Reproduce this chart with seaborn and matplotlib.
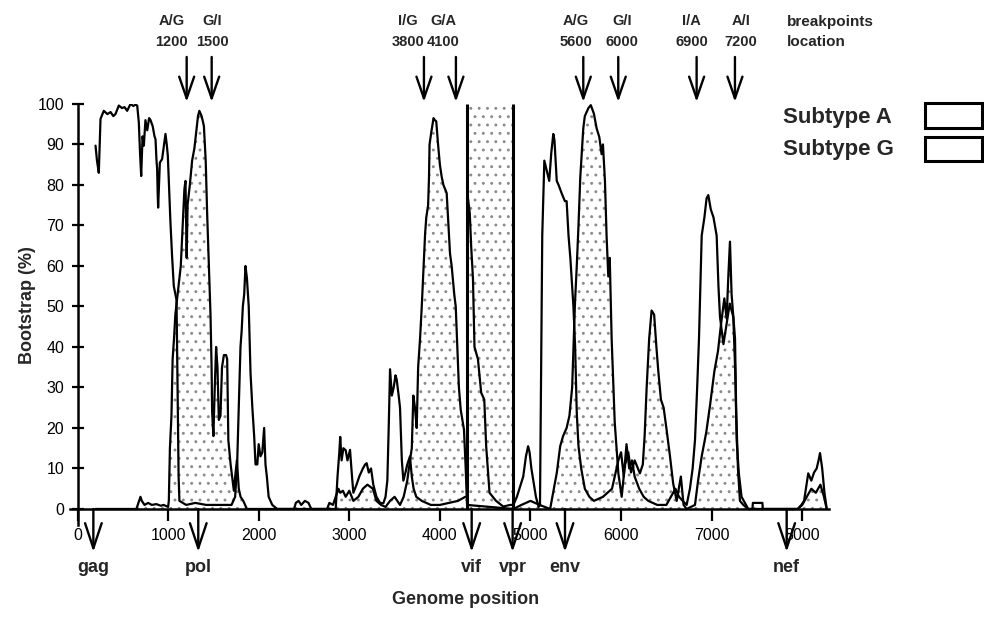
import numpy as np
import pandas as pd
import seaborn as sns
import matplotlib.pyplot as plt
from matplotlib.patches import Rectangle

# bootscan values (genome position, bootstrap %)
a_pos = [199, 215, 235, 254, 290, 330, 365, 395, 419, 456, 490, 520, 548, 585, 615, 640, 659, 677, 690, 703,
         718, 732, 750, 770, 790, 806, 830, 850, 861, 872, 879, 885, 890, 900, 909, 934, 950, 971, 985, 997,
         1010, 1026, 1045, 1063, 1080, 1093, 1100, 1108, 1116, 1125, 1200, 1300, 1420, 1550, 1700, 1740, 1762,
         1780, 1799, 1812, 1825, 1840, 1854, 1870, 1890, 1910, 1930, 1950, 1965, 1985, 2000, 2020, 2040, 2060,
         2075, 2090, 2110, 2150, 2204, 2850, 2870, 2890, 2900, 2915, 2935, 2960, 2980, 3008, 3030, 3045, 3080,
         3110, 3150, 3175, 3192, 3215, 3240, 3265, 3300, 3340, 3376, 3400, 3420, 3435, 3450, 3470, 3490, 3510,
         3523, 3545, 3560, 3580, 3597, 3620, 3640, 3670, 3690, 3710, 3740, 3800, 3900, 4000, 4100, 4200, 4280,
         4300, 4306, 4330, 4345, 4365, 4382, 4420, 4456, 4490, 4511, 4548, 4620, 4700, 4775, 4811, 4850, 4884,
         4920, 4950, 4974, 4990, 5010, 5031, 5060, 5090, 5105, 5120, 5130, 5153, 5175, 5207, 5230, 5252, 5265,
         5290, 5310, 5350, 5380, 5399, 5420, 5440, 5474, 5493, 5511, 5530, 5560, 5600, 5650, 5700, 5800, 5900,
         5950, 5970, 6000, 6030, 6060, 6090, 6120, 6150, 6200, 6250, 6300, 6400, 6500, 6550, 6600, 6640, 6680,
         6724, 6760, 6790, 6816, 6840, 6860, 6890, 6920, 6944, 6963, 6990, 7020, 7055, 7075, 7092, 7130, 7165,
         7200, 7239, 7260, 7276, 7300, 7330, 7404, 7950, 7990, 8020, 8040, 8066, 8100, 8130, 8159, 8180, 8196,
         8220, 8245, 8270]
a_val = [89.7, 86, 83, 96.3, 98.3, 97.5, 98, 97, 97.5, 99.6, 99, 99.2, 98.3, 100, 99.5, 99.8, 99.6, 95.4, 88, 82.2,
         92, 89.7, 96, 93.5, 96.5, 96, 94.5, 92, 91.3, 86, 84, 78, 74.4, 80, 85.5, 86.4, 89, 92.6, 90, 87.2,
         80, 70.7, 62, 55, 53, 51.6, 38, 22, 8, 2, 1, 1.5, 1, 1, 1, 3, 11,
         25, 40, 44, 50, 53, 60, 57, 50, 33.5, 25, 18, 11, 11, 16, 13, 14, 20,
         11, 8, 3, 1, 0, 0, 8, 14, 17.8, 12, 15, 14.5, 12, 14.6, 8, 4, 6,
         8, 10, 11, 11.3, 9, 10, 6, 3, 1.5, 1.4, 3, 7, 20, 34.5, 28, 30, 33,
         32, 28, 25, 12, 7, 9, 11, 13, 8, 5, 3, 2, 1, 1, 1.5, 2, 3,
         3, 77.5, 73, 65, 57, 40, 37, 28.7, 27, 15.5, 4, 2, 0.6, 1, 1, 3, 5.4,
         8, 13, 15.5, 14, 10, 7, 3, 0.5, 1, 40, 67.5, 86, 84, 81, 88, 92.6, 91,
         81, 80, 77.6, 76, 76, 67.5, 62, 50, 40, 23.7, 15.5, 10, 5, 3, 2, 3, 5,
         10, 12, 14, 8, 16, 10, 12, 8, 5, 3, 2, 1, 1, 3, 5, 3, 2,
         1, 5, 10, 17, 30, 42, 67.5, 72, 76.7, 77.5, 74, 72, 67.5, 55, 47.4, 40.7, 45.7,
         50.7, 47.4, 34, 17, 8.8, 3, 0, 0, 1, 2, 5, 8.8, 7, 9, 10, 12, 13.8,
         10, 4, 0]

g_pos = [199, 650, 695, 710, 740, 780, 820, 870, 920, 950, 1000, 1008, 1020, 1037, 1050, 1065, 1080, 1100, 1120,
         1140, 1165, 1180, 1192, 1205, 1215, 1240, 1265, 1290, 1310, 1330, 1345, 1370, 1395, 1415, 1431, 1450,
         1468, 1480, 1486, 1500, 1515, 1530, 1545, 1560, 1578, 1595, 1616, 1640, 1652, 1665, 1690, 1707, 1726,
         1745, 1760, 1780, 1800, 1830, 1870, 2390, 2410, 2440, 2470, 2510, 2550, 2580, 2755, 2780, 2820, 2850,
         2880, 2900, 2930, 2960, 3000, 3045, 3100, 3150, 3200, 3260, 3300, 3350, 3400, 3450, 3500, 3560, 3600,
         3640, 3670, 3690, 3707, 3725, 3744, 3760, 3781, 3800, 3818, 3837, 3850, 3870, 3880, 3886, 3905, 3930,
         3945, 3960, 3980, 4000, 4020, 4039, 4075, 4095, 4112, 4130, 4160, 4175, 4193, 4210, 4230, 4266, 4285,
         4300, 4811, 4900, 5000, 5100, 5217, 5250, 5291, 5328, 5360, 5399, 5430, 5460, 5491, 5511, 5530, 5550,
         5583, 5600, 5640, 5666, 5700, 5730, 5760, 5785, 5800, 5822, 5840, 5859, 5875, 5896, 5930, 5970, 6007,
         6040, 6080, 6110, 6150, 6208, 6240, 6260, 6282, 6310, 6337, 6365, 6390, 6411, 6440, 6470, 6500, 6540,
         6575, 6614, 6660, 6690, 6724, 6816, 6850, 6890, 6940, 6982, 7030, 7070, 7100, 7140, 7165, 7185, 7202,
         7220, 7258, 7270, 7290, 7312, 7350, 7404, 7450, 7455, 7560, 7565, 7950, 8000, 8050, 8100, 8150, 8200,
         8240, 8270]
g_val = [0, 0, 3, 2, 1, 1.5, 1, 1.2, 0.8, 1, 0.5, 2, 15, 23, 37, 42, 48, 52, 56,
         60, 72, 79, 81, 62, 75, 80, 86, 89, 93, 97, 98.3, 97, 94.6, 86, 73, 60,
         48, 35, 24, 18, 30, 40, 35, 22, 23, 35, 38, 38, 37, 17, 11, 8, 4.5,
         9, 12, 5, 3, 2, 0, 0, 1.5, 2, 1, 2, 1.5, 0, 0, 1.5, 1, 3,
         5, 4, 4.5, 3, 4.5, 2, 3, 5, 6, 5, 2, 1, 0.5, 2, 3, 1, 3,
         7, 12, 15, 28, 25, 20, 35, 42, 50, 58.5, 68, 72, 75, 82, 90, 93, 96.5,
         96, 95.7, 90, 85, 82, 80, 78, 70, 63, 60, 52.7, 50, 40, 30, 24.5, 19.6, 10,
         1, 0, 1, 2, 1, 0, 4, 9, 15.5, 18, 20, 23, 30, 50.7, 60, 70, 82,
         94, 97, 99, 99.7, 97.6, 94, 91.8, 87.6, 90, 81, 67.5, 57.4, 62, 42, 21.4, 8.8, 3,
         10.5, 14, 9, 12, 8.8, 11, 18, 29.8, 42, 49, 48, 40, 34, 27, 25, 20, 13,
         6.3, 2, 8, 1, 0, 1, 7, 13, 18.9, 25.6, 34, 39, 45, 52, 47, 58, 66,
         53, 42, 25, 10, 2, 1, 0, 0, 1.5, 1.5, 0, 0, 1, 3, 5, 4, 6,
         3, 0]

gap_edges = [4303, 4811]

# breakpoints: quoted location, and where the arrow sits on the drawing
bp_loc = [1200, 1500, 3800, 4100, 5600, 6000, 6900, 7200]
bp_arrow = [1205, 1481, 3824, 4177, 5583, 5969, 6834, 7257]
bp_names = ["A/G", "G/I", "I/G", "G/A", "A/G", "G/I", "I/A", "A/I"]

gene_pos = [175, 1333, 4351, 4803, 5381, 7828]
gene_names = ["gag", "pol", "vif", "vpr", "env", "nef"]

# label centres are pushed apart so the pairs don't collide
label_x = [1040, 1490, 3650, 4034, 5500, 6007, 6779, 7321]

sns.set_theme(style="ticks")
plt.rcParams['font.family'] = ['Liberation Sans', 'DejaVu Sans']
plt.rcParams['hatch.linewidth'] = 0.9

df_a = pd.DataFrame({"pos": a_pos, "boot": a_val})
df_g = pd.DataFrame({"pos": g_pos, "boot": g_val})

fig = plt.figure(figsize=(9.84, 6.18), dpi=100)
ax = fig.add_axes([0.0714, 0.1502, 0.7706, 0.6816])

# stippled areas (subtype G and the excluded vif/vpr stretch)
ax.fill_between(df_g["pos"], 0, df_g["boot"], facecolor="white", edgecolor="#8a8a8a",
                hatch="..", lw=0, zorder=1)
ax.fill_between(gap_edges, 0, 100, facecolor="white", edgecolor="#8a8a8a", hatch="..", lw=0, zorder=1)
ax.vlines(gap_edges, 0, 100, color="black", lw=2.2, zorder=3)

sns.lineplot(data=df_a, x="pos", y="boot", color="black", lw=1.6, errorbar=None, ax=ax, zorder=3)
sns.lineplot(data=df_g, x="pos", y="boot", color="black", lw=1.6, errorbar=None, ax=ax, zorder=3)

ax.set_xlim(-80, 8290)
ax.set_ylim(-4, 100)
ax.spines["left"].set_position(("data", 0))
ax.spines["bottom"].set_position(("data", 0))
ax.spines["top"].set_visible(False)
ax.spines["right"].set_visible(False)
for s in ["left", "bottom"]:
    ax.spines[s].set_linewidth(1.8)
    ax.spines[s].set_color("black")

ax.set_xticks(range(0, 8001, 1000))
ax.set_yticks(range(0, 101, 10))
ax.tick_params(axis="x", direction="out", length=8.5, width=1.6, pad=5, labelsize=11.5, colors="black")
ax.tick_params(axis="y", direction="inout", length=9, width=1.6, pad=5, labelsize=11.5, colors="black")
ax.set_xlabel("")
ax.set_ylabel("")

# breakpoint arrows and labels above the plot
for x, lx, loc, name in zip(bp_arrow, label_x, bp_loc, bp_names):
    ax.annotate("", xy=(x, 100.5), xytext=(x, 111.6), annotation_clip=False,
                arrowprops=dict(arrowstyle="->,head_length=1.3,head_width=0.45", lw=1.7,
                                color="black", shrinkA=0, shrinkB=0))
    ax.text(lx, 120.6, name, ha="center", va="center", fontsize=10.5, fontweight="bold", clip_on=False)
    ax.text(lx, 115.3, str(loc), ha="center", va="center", fontsize=10.5, fontweight="bold", clip_on=False)

# gene arrows below the axis
for x, name in zip(gene_pos, gene_names):
    ax.annotate("", xy=(x, -10.6), xytext=(x, 0), annotation_clip=False,
                arrowprops=dict(arrowstyle="->,head_length=1.5,head_width=0.5", lw=1.7,
                                color="black", shrinkA=0, shrinkB=0))
    ax.text(x, -14.5, name, ha="center", va="center", fontsize=13, fontweight="bold", clip_on=False)

fig.text(787 / 984, 1 - 22 / 618, "breakpoints", fontsize=11, fontweight="bold", va="center")
fig.text(787 / 984, 1 - 42.5 / 618, "location", fontsize=11, fontweight="bold", va="center")

fig.text(783 / 984, 1 - 117 / 618, "Subtype A", fontsize=16, fontweight="bold", va="center")
fig.text(783 / 984, 1 - 150 / 618, "Subtype G", fontsize=16, fontweight="bold", va="center")
fig.patches.append(Rectangle((925 / 984, 1 - 128 / 618), 57 / 984, 25 / 618, transform=fig.transFigure,
                             fill=False, lw=2.2, edgecolor="black"))
fig.patches.append(Rectangle((925 / 984, 1 - 161 / 618), 57 / 984, 24 / 618, transform=fig.transFigure,
                             fill=False, lw=2.2, edgecolor="black"))

fig.text(27 / 984, 1 - 305 / 618, "Bootstrap (%)", rotation=90, fontsize=13, fontweight="bold",
         ha="center", va="center")
fig.text(466 / 984, 1 - 600 / 618, "Genome position", fontsize=13, fontweight="bold",
         ha="center", va="center")

fig.savefig("out.png", dpi=100)
